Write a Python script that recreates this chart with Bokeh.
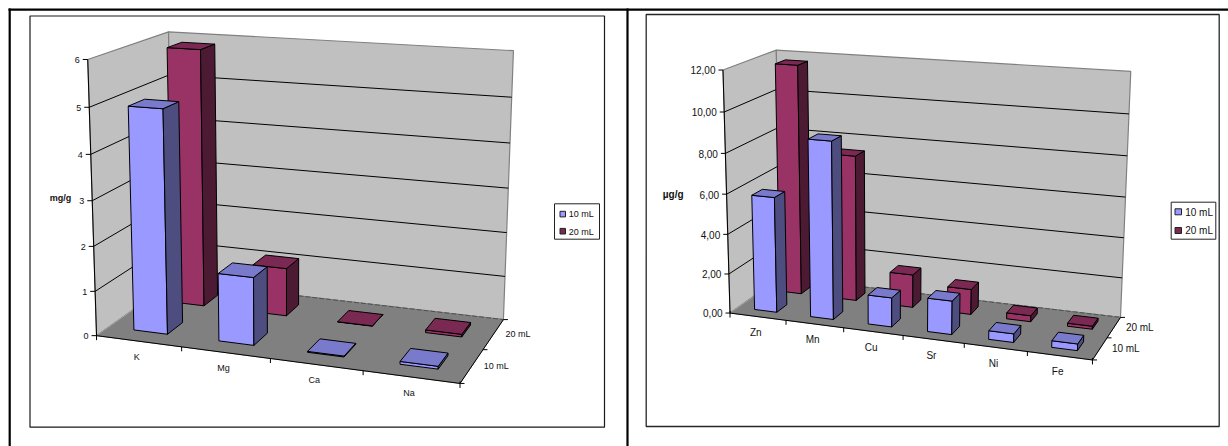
import numpy as np
from bokeh.plotting import figure
from bokeh.models import Range1d, ColumnDataSource
from bokeh.core.properties import value
from bokeh.embed import file_html
from bokeh.resources import INLINE

# ---------- data ----------
series = ["10 mL", "20 mL"]
left_categories = ["K", "Mg", "Ca", "Na"]
left_10 = [4.95, 1.5, 0.02, 0.06]
left_20 = [5.88, 1.1, 0.005, 0.06]
left_ticks = ["0", "1", "2", "3", "4", "5", "6"]
left_title = "mg/g"

right_categories = ["Zn", "Mn", "Cu", "Sr", "Ni", "Fe"]
right_10 = [5.8, 8.8, 1.45, 1.65, 0.42, 0.32]
right_20 = [11.7, 7.4, 1.67, 1.27, 0.3, 0.15]
right_ticks = ["0,00", "2,00", "4,00", "6,00", "8,00", "10,00", "12,00"]
right_title = "µg/g"

# ---------- style ----------
FACE = [("#9999FF", "#4D4D80", "#7A7ACC"), ("#993366", "#4D1A33", "#7A2952")]
WALL, FLOOR = "#C0C0C0", "#808080"
FONT = value("Liberation Sans")

p = figure(width=1228, height=446, x_range=Range1d(0, 1228), y_range=Range1d(446, 0),
           output_backend="svg", toolbar_location=None, min_border=0, outline_line_color=None)
p.axis.visible = False
p.grid.visible = False


def make_projection(n, vmax, anchors):
    """Perspective camera fitted on calibration points ((u, d, v), (px, py))."""
    rows, rhs = [], []
    for (u, d, v), (x, y) in anchors:
        rows.append([u, d, v, 1, 0, 0, 0, 0, -x * u, -x * d, -x * v]); rhs.append(x)
        rows.append([0, 0, 0, 0, u, d, v, 1, -y * u, -y * d, -y * v]); rhs.append(y)
    m = np.linalg.lstsq(np.array(rows, float), np.array(rhs, float), rcond=None)[0]
    P = np.append(m, 1.0).reshape(3, 4)

    def proj(u, d, v):
        h = P @ np.array([u, d, v, 1.0])
        return h[0] / h[2], h[1] / h[2]
    return proj


def text(x, y, s, size, align="center", style="normal"):
    p.text([x], [y], text=[s], text_font=FONT, text_font_size=value(size), text_align=align,
           text_baseline="middle", text_color="#111111", text_font_style=style)


def segs(lst, color="black", width=1, dash="solid"):
    p.multi_line([[a[0], b[0]] for a, b in lst], [[a[1], b[1]] for a, b in lst],
                 line_color=color, line_width=width, line_dash=dash)


def chart(cats, vals, tick_labels, title, vmax, step, proj, size, title_xy, legend, tick_dx, text_dx):
    n = len(cats)
    A, B, C, D = proj(0, 0, 0), proj(n, 0, 0), proj(n, 1, 0), proj(0, 1, 0)
    E, G, H = proj(0, 0, vmax), proj(n, 1, vmax), proj(0, 1, vmax)

    # walls and floor
    p.patches([[A[0], D[0], H[0], E[0]], [D[0], C[0], G[0], H[0]]],
              [[A[1], D[1], H[1], E[1]], [D[1], C[1], G[1], H[1]]],
              fill_color=WALL, line_color="#808080", line_width=1.2)
    p.patch([A[0], B[0], C[0], D[0]], [A[1], B[1], C[1], D[1]], fill_color=FLOOR, line_color=FLOOR)
    segs([(D, C)], "#505050", 1, "5 2")
    segs([(A, D)], "#A0A0A0", 1)

    # gridlines
    grid = []
    for i in range(1, len(tick_labels) - 1):
        v = i * step
        grid += [(proj(0, 0, v), proj(0, 1, v)), (proj(0, 1, v), proj(n, 1, v))]
    segs(grid)

    # axes lines and ticks
    segs([(A, E), (A, B), (B, C)])
    ticks = []
    for i, lab in enumerate(tick_labels):
        t = proj(0, 0, i * step)
        ticks.append((t, (t[0] - tick_dx, t[1])))
        text(t[0] - text_dx, t[1] + 0.4, lab, size, "right")
    for i in range(n + 1):
        t = proj(i, 0, 0)
        ticks.append(((t[0], t[1] - (2 if i == 0 or i == n else 0)), (t[0], t[1] + 4.5)))
    for d in (0, 0.5, 1):
        t = proj(n, d, 0)
        ticks.append((t, (t[0] + 4.5, t[1])))
    segs(ticks)

    # bars: back row first, left to right
    xs, ys, cols = [], [], []
    half_u, half_d = 0.2, 0.1
    for s in (1, 0):
        dc = 0.25 + 0.5 * s
        for i, val in enumerate(vals[s]):
            u0, u1 = i + 0.5 - half_u, i + 0.5 + half_u
            d0, d1 = dc - half_d, dc + half_d
            faces = [
                [(u0, d0, 0), (u1, d0, 0), (u1, d0, val), (u0, d0, val)],
                [(u1, d0, 0), (u1, d1, 0), (u1, d1, val), (u1, d0, val)],
                [(u0, d0, val), (u1, d0, val), (u1, d1, val), (u0, d1, val)],
            ]
            for f, col in zip(faces, FACE[s]):
                pts = [proj(*q) for q in f]
                xs.append([q[0] for q in pts])
                ys.append([q[1] for q in pts])
                cols.append(col)
    p.patches("xs", "ys", source=ColumnDataSource(dict(xs=xs, ys=ys, color=cols)),
              fill_color="color", line_color="black", line_width=1, line_join="miter")

    # category and depth labels
    for i, c in enumerate(cats):
        t = proj(i + 0.5, 0, 0)
        text(t[0] - 2, t[1] + 15.7, c, size)
    for s, name in enumerate(series):
        t = proj(n, 0.25 + 0.5 * s, 0)
        text(t[0] + 12, t[1], name, size, "left")

    text(title_xy[0], title_xy[1], title, size, style="bold")

    # legend
    (bx0, by0, bx1, by1), sx0, sx1, tx, sy, sh = legend
    p.quad(left=[bx0], right=[bx1], top=[by0], bottom=[by1], fill_color="white", line_color="#222222", line_width=1)
    for s, name in enumerate(series):
        p.quad(left=[sx0], right=[sx1], top=[sy[s] - sh], bottom=[sy[s] + sh],
               fill_color=FACE[s][0] if s == 0 else FACE[s][2], line_color="#222222", line_width=1)
        text(tx, sy[s] + 0.3, name, size, "left")


# ---------- page frames ----------
segs([((8, 9.2), (1228, 9.2)), ((9.2, 8), (9.2, 446)), ((627, 8), (627, 446))], "black", 2.2)
p.quad(left=[29.5], right=[604], top=[15.5], bottom=[426.7], fill_color="white", line_color="#1a1a1a", line_width=1.2)
p.quad(left=[645.7], right=[1218.7], top=[14], bottom=[426], fill_color="white", line_color="#262626", line_width=1.3)

# ---------- left chart ----------
n_l = len(left_categories)
proj_l = make_projection(n_l, 6, [
    ((0, 0, 0), (97.5, 335)), ((n_l, 0, 0), (459, 384)), ((n_l, 1, 0), (504, 317)), ((0, 1, 0), (170, 282)),
    ((0, 0, 6), (85.7, 58.3)), ((n_l, 1, 6), (512.7, 50.7)), ((0, 1, 6), (170, 31.7)),
    ((1, 0, 0), (182, 346.5)), ((2, 0, 0), (270, 358.4)), ((3, 0, 0), (361.7, 370.8)),
    ((0, 0, 5), (87.3, 106.7)), ((0, 0, 4), (90.7, 154.3)), ((0, 0, 3), (92.3, 200)),
    ((0, 0, 2), (93.7, 245.3)), ((0, 0, 1), (95, 290)),
])
chart(left_categories, [left_10, left_20], left_ticks, left_title, 6, 1, proj_l, "9px", (60, 197.3),
      ((554, 203.3, 599, 238.7), 559.5, 565, 568.3, (213.6, 230.7), 2.8), 5, 8)

# ---------- right chart ----------
n_r = len(right_categories)
proj_r = make_projection(n_r, 12, [
    ((0, 0, 0), (730.7, 312.3)), ((n_r, 0, 0), (1091.7, 360)), ((n_r, 1, 0), (1120.7, 316)), ((0, 1, 0), (778, 277)),
    ((0, 0, 12), (720.7, 69)), ((n_r, 1, 12), (1130, 71)), ((0, 1, 12), (777.7, 50)),
    ((1, 0, 0), (786.7, 319.7)), ((2, 0, 0), (843.7, 327.2)), ((3, 0, 0), (902.3, 334.9)),
    ((4, 0, 0), (963.3, 343)), ((5, 0, 0), (1026.7, 351.4)),
])
chart(right_categories, [right_10, right_20], right_ticks, right_title, 12, 2, proj_r, "10px", (672.7, 194),
      ((1170.7, 201.7, 1215.3, 238.7), 1174.5, 1181, 1184.7, (211.3, 230), 3), 4.5, 7.5)

open("out.html", "w").write(file_html(p, INLINE))
